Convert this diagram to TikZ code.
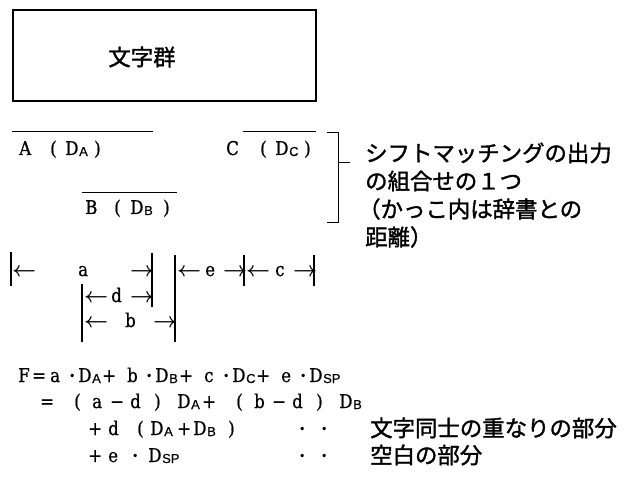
\RequirePackage{fix-cm}
\documentclass[tikz,border=0pt]{standalone}
\usepackage{fontspec}
\setmainfont{DejaVu Serif}[FakeStretch=0.88,FakeBold=0.8]
\newfontfamily\jp{Noto Sans CJK JP}[FakeBold=1.5]
\newfontfamily\subf{Liberation Sans}[FakeBold=0.5]
\newcommand\tk[2]{\rlap{\hspace*{#1bp}#2}}
\newcommand\sbs[1]{\raisebox{-1bp}{\fontsize{13}{13}\subf #1}}
\newcommand\dt{\raisebox{2.3bp}{\scalebox{0.6}{•}}}
\newcommand\la{{\fontsize{21}{21}\selectfont\boldmath$\leftarrow$}}
\newcommand\ra{{\fontsize{21}{21}\selectfont\boldmath$\rightarrow$}}
\newcommand\mn{−}
\tikzset{
  latin/.style={anchor=base west, inner sep=0pt, font=\fontsize{19}{19}\selectfont},
  jtext/.style={anchor=west, inner sep=0pt, font=\jp\fontsize{22.5}{22.5}\selectfont},
  thin line/.style={line width=1bp},
  bar/.style={line width=1.1bp},
}
\begin{document}
\begin{tikzpicture}[x=1bp,y=-1bp]
\useasboundingbox (0,0) rectangle (629,500);
% box
\node[draw, line width=1.6bp, minimum width=303bp, minimum height=91bp, anchor=north west, inner sep=0pt] (box) at (12,9) {};
\node[jtext, anchor=center] (title) at (142,57) {文字群};
% labels with overlines
\node[latin] (la) at (0,155) {\tk{19}{A}\tk{50}{(}\tk{65}{D}\tk{79}{\sbs{A}}\tk{94}{)}\hspace*{110bp}};
\node[latin] (lc) at (0,155) {\tk{226}{C}\tk{260}{(}\tk{275}{D}\tk{289}{\sbs{C}}\tk{304}{)}\hspace*{316bp}};
\node[latin] (lb) at (0,214) {\tk{85}{B}\tk{114}{(}\tk{130}{D}\tk{144}{\sbs{B}}\tk{163}{)}\hspace*{177bp}};
\coordinate (oa1) at (12,132); \coordinate (oa2) at (153,132);
\coordinate (oc1) at (243,132); \coordinate (oc2) at (316,132);
\coordinate (ob1) at (82,193); \coordinate (ob2) at (177,193);
\draw[thin line] (oa1) -- (oa2);
\draw[thin line] (oc1) -- (oc2);
\draw[thin line] (ob1) -- (ob2);
% bracket
\coordinate (k1) at (327,133); \coordinate (k2) at (338,133);
\coordinate (k3) at (338,223); \coordinate (k4) at (327,223);
\coordinate (k5) at (338,163); \coordinate (k6) at (350,163);
\draw[thin line] (k1) -- (k2) -- (k3) -- (k4);
\draw[thin line] (k5) -- (k6);
\node[jtext] (r1) at (365,153) {シフトマッチングの出力};
\node[jtext] (r2) at (365,181) {の組合せの１つ};
\node[jtext] (r3) at (358,209) {（かっこ内は辞書との};
\node[jtext] (r4) at (365,237) {距離）};
% dimension rows
\node[latin] (d1) at (0,276) {\tk{12}{\la}\tk{78}{a}\tk{130}{\ra}\tk{177}{\la}\tk{205}{e}\tk{223}{\ra}\tk{246}{\la}\tk{275}{c}\tk{293}{\ra}\hspace*{316bp}};
\node[latin] (d2) at (0,302) {\tk{84}{\la}\tk{111}{d}\tk{130}{\ra}\hspace*{152bp}};
\node[latin] (d3) at (0,327) {\tk{84}{\la}\tk{125}{b}\tk{153}{\ra}\hspace*{175bp}};
\draw[bar] (11,252) -- (11,286);
\draw[bar] (152,253) -- (152,307);
\draw[bar] (175,255) -- (175,342);
\draw[bar] (82,284) -- (82,342);
\draw[bar] (244,255) -- (244,286);
\draw[bar] (314,255) -- (314,286);
% formula
\node[latin] (f1) at (0,382) {\tk{18}{F}\tk{32}{=}\tk{50}{a}\tk{69}{\dt}\tk{78}{D}\tk{92}{\sbs{A}}\tk{102}{+}%
\tk{127}{b}\tk{146}{\dt}\tk{155}{D}\tk{169}{\sbs{B}}\tk{179}{+}%
\tk{204}{c}\tk{223}{\dt}\tk{232}{D}\tk{246}{\sbs{C}}\tk{256}{+}%
\tk{281}{e}\tk{300}{\dt}\tk{309}{D}\tk{323}{\sbs{SP}}\hspace*{345bp}};
\node[latin] (f2) at (0,408) {\tk{40}{=}\tk{74}{(}\tk{92}{a}\tk{110}{\mn}\tk{130}{d}\tk{154}{)}\tk{177}{D}\tk{191}{\sbs{A}}\tk{202}{+}%
\tk{236}{(}\tk{254}{b}\tk{272}{\mn}\tk{292}{d}\tk{316}{)}\tk{339}{D}\tk{353}{\sbs{B}}\hspace*{365bp}};
\node[latin] (f3) at (0,435) {\tk{88}{+}\tk{108}{d}\tk{137}{(}\tk{150}{D}\tk{164}{\sbs{A}}\tk{177}{+}\tk{193}{D}\tk{207}{\sbs{B}}\tk{228}{)}%
\tk{299}{\dt}\tk{321}{\dt}\hspace*{330bp}};
\node[jtext] (j3) at (370,428) {文字同士の重なりの部分};
\node[latin] (f4) at (0,462) {\tk{88}{+}\tk{108}{e}\tk{132}{\dt}\tk{148}{D}\tk{162}{\sbs{SP}}%
\tk{299}{\dt}\tk{321}{\dt}\hspace*{330bp}};
\node[jtext] (j4) at (370,455) {空白の部分};
\end{tikzpicture}
\end{document}
